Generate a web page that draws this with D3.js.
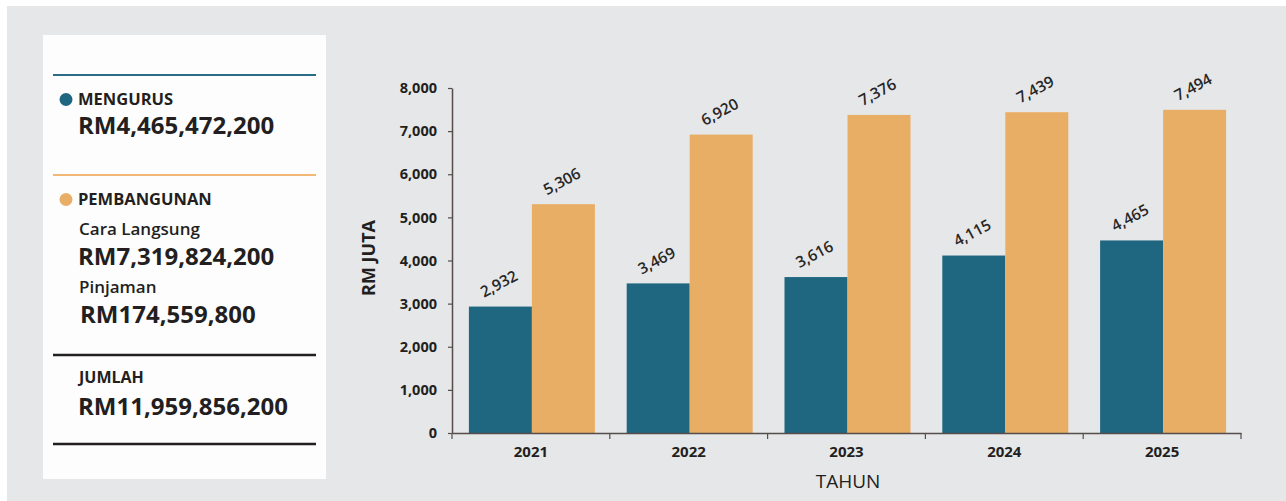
<!DOCTYPE html>
<html>
<head>
<meta charset="utf-8">
<script src="https://cdn.jsdelivr.net/npm/d3@7/dist/d3.min.js"></script>
<style>
  html, body { margin: 0; padding: 0; background: #ffffff; }
  svg { display: block; font-family: "Open Sans", "Noto Sans", sans-serif; }
</style>
</head>
<body>
<svg id="chart" width="1286" height="501"></svg>
<script>
// ---- data ----
const years = ["2021", "2022", "2023", "2024", "2025"];
const mengurus = [2932, 3469, 3616, 4115, 4465];
const pembangunan = [5306, 6920, 7376, 7439, 7494];
const yTicks = [0, 1000, 2000, 3000, 4000, 5000, 6000, 7000, 8000];
const seriesNames = ["MENGURUS", "PEMBANGUNAN"];
const seriesColors = ["#1f6680", "#e9ae66"];
const legendItems = [
  { label: "MENGURUS", amount: "RM4,465,472,200" },
  { label: "PEMBANGUNAN", sub1: "Cara Langsung", amount1: "RM7,319,824,200", sub2: "Pinjaman", amount2: "RM174,559,800" },
  { label: "JUMLAH", amount: "RM11,959,856,200" }
];
const yTitle = "RM JUTA";
const xTitle = "TAHUN";

(function () {
const svg = d3.select("#chart");
const textColor = "#231f20";

// background
svg.append("rect").attr("x", 7).attr("y", 6).attr("width", 1279).attr("height", 495).attr("fill", "#e6e7e9");
// legend panel
svg.append("rect").attr("x", 43).attr("y", 35).attr("width", 283).attr("height", 444).attr("fill", "#fdfdfd");

// ---- legend panel ----
const lg = svg.append("g");
function line(yy, color, w) {
  lg.append("line").attr("x1", 53).attr("x2", 316).attr("y1", yy).attr("y2", yy)
    .attr("stroke", color).attr("stroke-width", w);
}
function txt(x, yy, s, size, weight) {
  return lg.append("text").attr("x", x).attr("y", yy).text(s)
    .attr("font-size", size).attr("font-weight", weight).attr("fill", textColor);
}
line(75, "#2a6b86", 2);
lg.append("circle").attr("cx", 66).attr("cy", 99.5).attr("r", 6.5).attr("fill", seriesColors[0]);
txt(78, 105, legendItems[0].label, 16.5, 700);
txt(78, 134, legendItems[0].amount, 24, 700);

line(175, "#f2b876", 2);
lg.append("circle").attr("cx", 66).attr("cy", 199.5).attr("r", 6.5).attr("fill", seriesColors[1]);
txt(78, 205, legendItems[1].label, 16.5, 700);
txt(79, 235, legendItems[1].sub1, 17, 600);
txt(78, 265, legendItems[1].amount1, 24, 700);
txt(79, 293, legendItems[1].sub2, 17, 600);
txt(80, 323, legendItems[1].amount2, 24, 700);

line(355, "#231f20", 2.5);
txt(79, 383, legendItems[2].label, 16, 700);
txt(78, 415, legendItems[2].amount, 24, 700);
line(444, "#231f20", 2.5);

// ---- chart ----
const pLeft = 452, pRight = 1241, pTop = 88, pBottom = 433;
const x0 = d3.scaleBand().domain(years).range([pLeft, pRight]);
const groupW = 126;
const x1 = d3.scaleBand().domain(seriesNames)
  .range([(x0.bandwidth() - groupW) / 2 + 1, (x0.bandwidth() + groupW) / 2 + 1]);
const y = d3.scaleLinear().domain([0, 8000]).range([pBottom, pTop]);

const axisColor = "#564d4b";

// bars
const rows = years.map((yr, i) => ({ year: yr, vals: [mengurus[i], pembangunan[i]] }));
const groups = svg.append("g").selectAll("g").data(rows).join("g")
  .attr("transform", d => `translate(${x0(d.year)},0)`);
groups.selectAll("rect").data(d => d.vals.map((v, k) => ({ v, k })))
  .join("rect")
  .attr("x", d => x1(seriesNames[d.k]))
  .attr("width", x1.bandwidth())
  .attr("y", d => y(d.v))
  .attr("height", d => y(0) - y(d.v))
  .attr("fill", d => seriesColors[d.k]);

// value labels
groups.selectAll("text.val").data(d => d.vals.map((v, k) => ({ v, k })))
  .join("text").attr("class", "val")
  .attr("transform", d => `translate(${x1(seriesNames[d.k]) + x1.bandwidth() / 2 + 1},${y(d.v) - 18}) rotate(-28)`)
  .attr("text-anchor", "middle")
  .attr("font-size", 15.5).attr("font-weight", 600).attr("fill", "#262626")
  .text(d => d3.format(",")(d.v));

// y axis
const yAxis = svg.append("g").attr("transform", `translate(${pLeft},0)`)
  .call(d3.axisLeft(y).tickValues(yTicks).tickFormat(d3.format(",")).tickSize(4).tickSizeOuter(0).tickPadding(11));
yAxis.select(".domain").attr("stroke", axisColor).attr("stroke-width", 1.5);
yAxis.selectAll(".tick line").attr("stroke", axisColor).attr("stroke-width", 1.2);
yAxis.selectAll(".tick text").attr("font-size", 14.5).attr("font-weight", 700).attr("fill", textColor)
  .attr("font-family", "'Open Sans', sans-serif");

// x axis
const xAxis = svg.append("g").attr("transform", `translate(0,${pBottom})`)
  .call(d3.axisBottom(x0).tickSize(0).tickPadding(13));
xAxis.select(".domain").attr("stroke", axisColor).attr("stroke-width", 1.5);
xAxis.selectAll(".tick text").attr("font-size", 15).attr("font-weight", 700).attr("fill", textColor)
  .attr("font-family", "'Open Sans', sans-serif");
const boundaries = years.map(yv => x0(yv)).concat([pRight]);
xAxis.selectAll("line.bound").data(boundaries).join("line").attr("class", "bound")
  .attr("x1", d => d).attr("x2", d => d).attr("y1", 0).attr("y2", 6)
  .attr("stroke", axisColor).attr("stroke-width", 1.2);

// axis titles
svg.append("text").attr("transform", `translate(375,258) rotate(-90)`)
  .attr("text-anchor", "middle").attr("font-size", 18).attr("font-weight", 700).attr("fill", textColor)
  .text(yTitle);
svg.append("text").attr("x", 848).attr("y", 488).attr("text-anchor", "middle")
  .attr("font-size", 19).attr("font-weight", 500).attr("fill", textColor)
  .text(xTitle);
})();
</script>
</body>
</html>
